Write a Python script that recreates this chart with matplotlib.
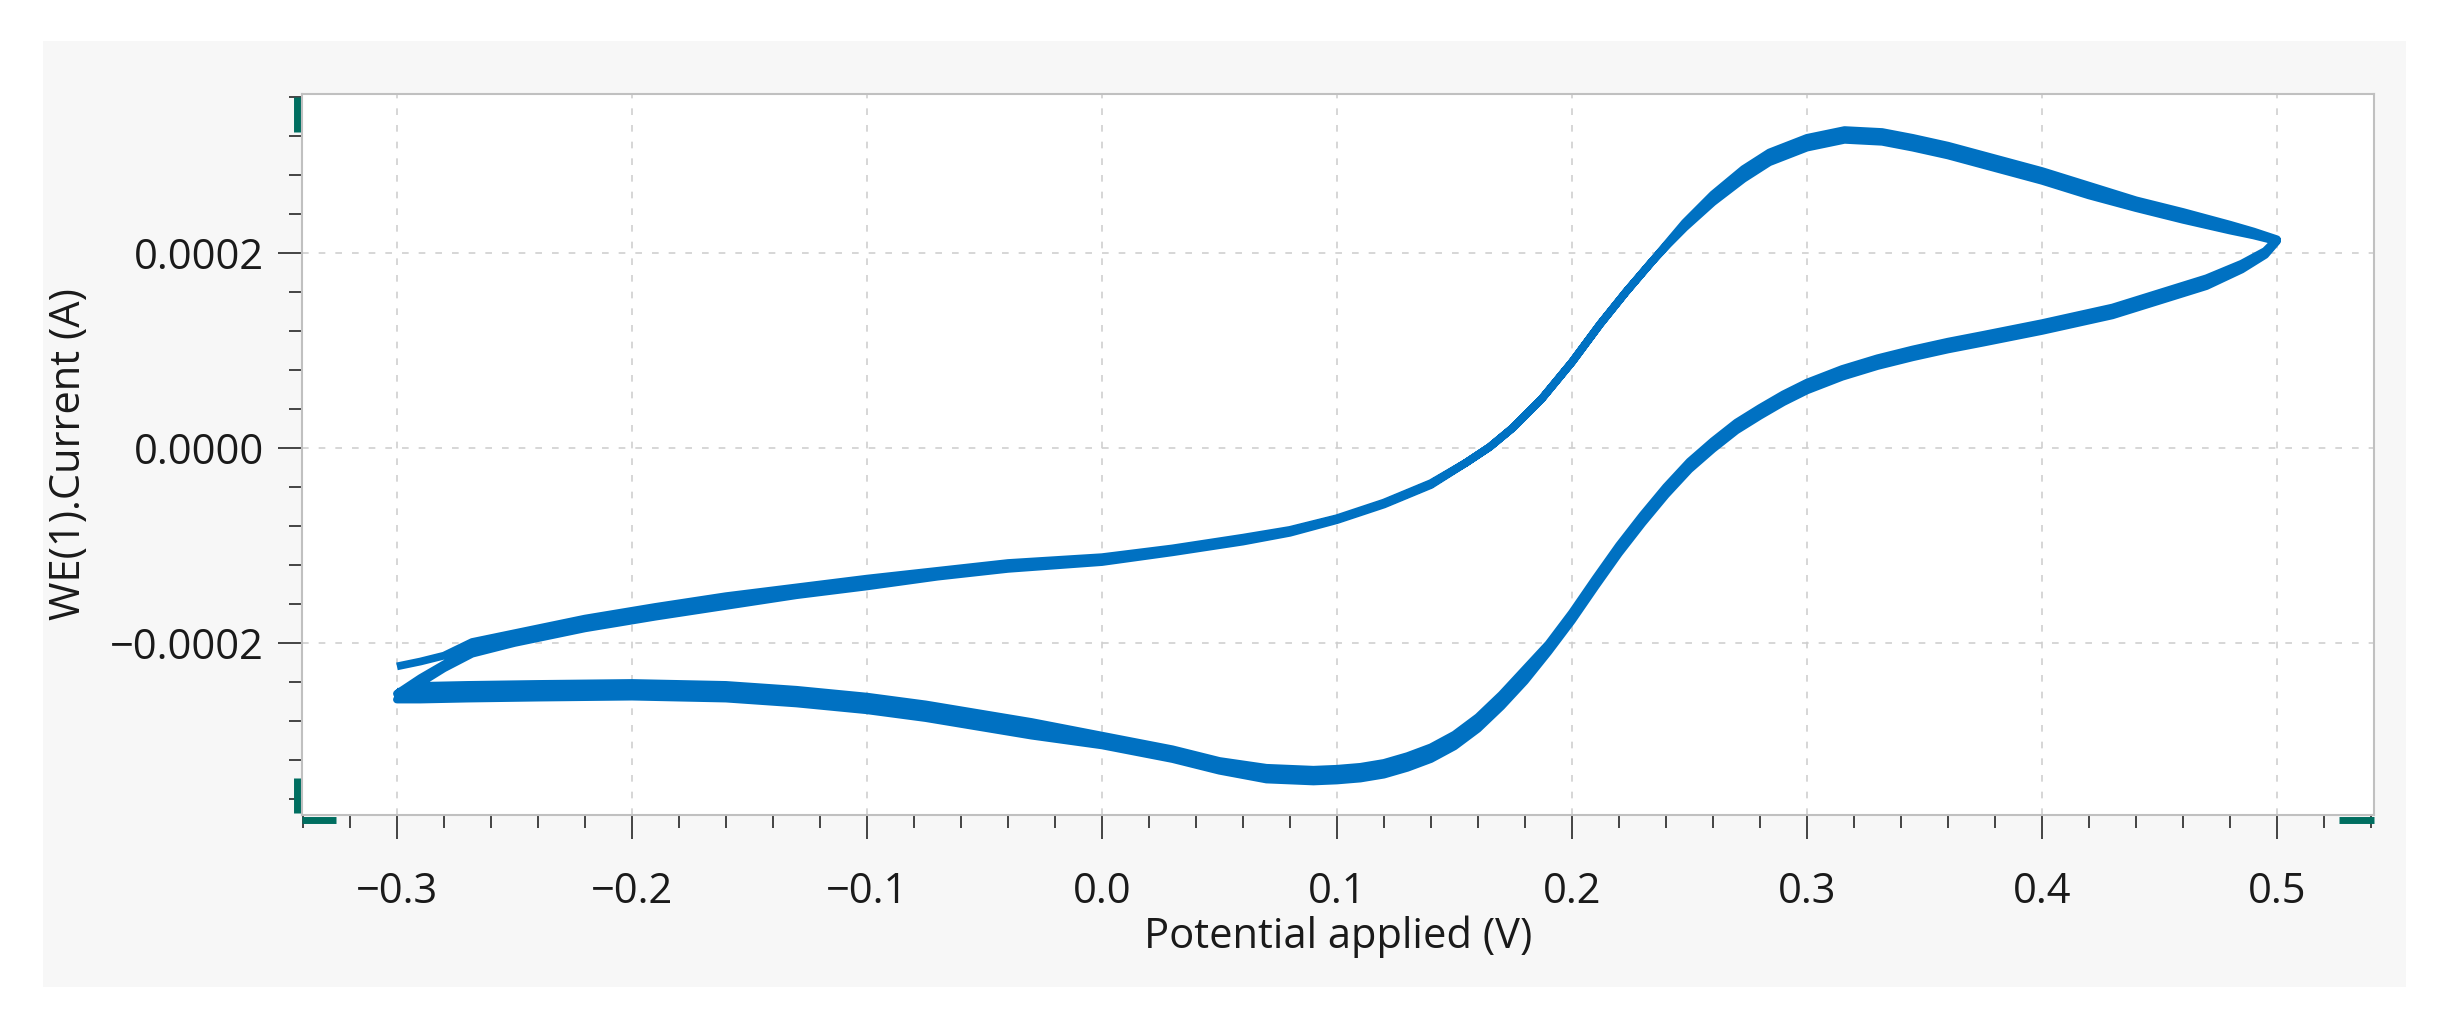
import numpy as np
import matplotlib
matplotlib.use("Agg")
import matplotlib.pyplot as plt
from matplotlib.ticker import MultipleLocator, FuncFormatter, FixedLocator
from matplotlib.patches import Rectangle

plt.rcParams['font.family'] = ['Open Sans', 'DejaVu Sans']

# ---------------- data (potential in V, current in microampere, 3 cycles) ----------------
E_fwd = [-0.300, -0.290, -0.280, -0.268, -0.250, -0.220, -0.190, -0.160, -0.130, -0.100,
         -0.070, -0.040, 0.000, 0.030, 0.060, 0.080, 0.100, 0.120, 0.140, 0.155,
         0.165, 0.175, 0.187, 0.200, 0.212, 0.223, 0.234, 0.241, 0.248, 0.260,
         0.273, 0.284, 0.300, 0.316, 0.332, 0.345, 0.360, 0.380, 0.400, 0.420,
         0.440, 0.460, 0.480, 0.490, 0.500]
I_fwd_cycle1 = [-224, -219, -213, -199, -190, -175, -163, -152, -143, -134,
                -126, -118, -112, -103, -92, -84, -72, -56, -36, -15,
                1, 21, 50, 88, 127, 160, 191, 209, 226, 252,
                276, 293, 308, 316, 314, 308, 300, 287, 274, 259,
                246, 234, 223, 218, 212]
I_fwd_cycle2 = [-258, -241, -226, -211, -200, -185, -173, -162, -151, -142,
                -132, -124, -117, -107, -96, -87, -74, -58, -38, -15,
                1, 21, 50, 88, 127, 160, 191, 211, 231, 260,
                286, 303, 318, 326, 324, 318, 310, 297, 284, 269,
                254, 242, 229, 222, 214]
I_fwd_cycle3 = [-252, -236, -222, -205, -195, -180, -168, -157, -147, -138,
                -129, -121, -115, -105, -94, -85, -73, -57, -37, -15,
                1, 21, 50, 88, 127, 160, 191, 210, 228, 256,
                281, 298, 313, 321, 319, 313, 305, 292, 279, 264,
                250, 238, 226, 220, 213]

E_rev = [0.500, 0.495, 0.485, 0.470, 0.450, 0.430, 0.400, 0.375, 0.360, 0.345,
         0.330, 0.315, 0.300, 0.290, 0.280, 0.270, 0.260, 0.250, 0.240, 0.230,
         0.220, 0.210, 0.200, 0.190, 0.180, 0.170, 0.160, 0.150, 0.140, 0.130,
         0.120, 0.110, 0.100, 0.090, 0.070, 0.050, 0.030, 0.000, -0.030, -0.050,
         -0.075, -0.100, -0.130, -0.160, -0.200, -0.240, -0.270, -0.290, -0.300]
I_rev_cycle1 = [212, 198, 183, 166, 151, 136, 120, 108, 101, 93,
                84, 73, 59, 47, 33, 18, -1, -22, -48, -77,
                -108, -142, -177, -209, -239, -265, -288, -306, -319, -328,
                -335, -339, -341, -342, -340, -331, -319, -305, -295, -287,
                -277, -269, -262, -257, -255, -256, -257, -258, -258]
I_rev_cycle2 = [214, 202, 189, 174, 159, 144, 128, 116, 109, 101,
                92, 81, 67, 55, 41, 26, 7, -14, -40, -69,
                -100, -134, -169, -201, -227, -253, -276, -294, -307, -316,
                -323, -327, -329, -330, -328, -321, -309, -295, -281, -273,
                -263, -255, -248, -243, -241, -242, -243, -244, -252]
I_rev_cycle3 = [213, 200, 186, 170, 155, 140, 124, 112, 105, 97,
                88, 77, 63, 51, 37, 22, 3, -18, -44, -73,
                -104, -138, -173, -205, -233, -259, -282, -300, -313, -322,
                -329, -333, -335, -336, -334, -326, -314, -300, -288, -280,
                -270, -262, -255, -250, -248, -249, -250, -251, -250]

x_major = [-0.3, -0.2, -0.1, 0.0, 0.1, 0.2, 0.3, 0.4, 0.5]
y_major = [-0.0002, 0.0, 0.0002]
x_label = "Potential applied (V)"
y_label = "WE(1).Current (A)"

# ---------------- figure ----------------
W, H, DPI = 2452, 1028, 100
fig = plt.figure(figsize=(W / DPI, H / DPI), dpi=DPI)
fig.patch.set_facecolor('white')

# light grey panel behind the plot
panel = Rectangle((43 / W, 1 - 987 / H), (2406 - 43) / W, (987 - 41) / H,
                  transform=fig.transFigure, facecolor='#f7f7f7',
                  edgecolor='none', zorder=-10)
fig.add_artist(panel)

ax_l, ax_r, ax_t, ax_b = 302, 2374, 94, 815
ax = fig.add_axes([ax_l / W, 1 - ax_b / H, (ax_r - ax_l) / W, (ax_b - ax_t) / H])
ax.set_zorder(1)
ax.set_facecolor('white')

E_all = np.concatenate([E_fwd, E_rev, E_fwd, E_rev, E_fwd, E_rev])
I_all = np.concatenate([I_fwd_cycle1, I_rev_cycle1,
                        I_fwd_cycle2, I_rev_cycle2,
                        I_fwd_cycle3, I_rev_cycle3]) * 1e-6
ax.plot(E_all, I_all, color='#0071c2', lw=5.6, solid_joinstyle='round',
        solid_capstyle='butt', zorder=3)

ax.set_xlim(-0.3404, 0.5413)
ax.set_ylim(-0.0003764, 0.000363)

ax.xaxis.set_major_locator(FixedLocator(x_major))
ax.xaxis.set_minor_locator(MultipleLocator(0.02))
ax.yaxis.set_major_locator(FixedLocator(y_major))
ax.yaxis.set_minor_locator(MultipleLocator(0.00004))

def fmt(dec):
    def f(v, pos):
        s = f"{v:.{dec}f}"
        if float(s) == 0:
            s = f"{0:.{dec}f}"
        return s.replace('-', '\u2212')
    return FuncFormatter(f)

ax.xaxis.set_major_formatter(fmt(1))
ax.yaxis.set_major_formatter(fmt(4))

tick_col = '#444444'
ax.tick_params(axis='both', which='major', direction='out', length=17.5, width=1.4,
               color=tick_col, labelsize=30, labelcolor='#1a1a1a')
ax.tick_params(axis='both', which='minor', direction='out', length=9.5, width=1.4,
               color=tick_col)
ax.tick_params(axis='x', which='major', pad=23)
ax.tick_params(axis='y', which='major', pad=10)

for sp in ax.spines.values():
    sp.set_color('#c0c0c0')
    sp.set_linewidth(1.5)

ax.grid(True, which='major', color='#cfcfcf', linestyle=(0, (4, 6)), linewidth=1.2)
ax.set_axisbelow(True)

# teal range handles at the axis ends
green = '#006e60'
axw, axh = ax_r - ax_l, ax_b - ax_t
handles = [
    ((-5 / axw, -5 / axw), (1 - 38 / axh, 1 - 3 / axh)),
    ((-5 / axw, -5 / axw), (2 / axh, 37 / axh)),
    ((0.0, 34 / axw), (-5 / axh, -5 / axh)),
    ((1 - 35 / axw, 1.0), (-5 / axh, -5 / axh)),
]
for xs, ys in handles:
    ax.plot(xs, ys, transform=ax.transAxes, color=green, lw=5, clip_on=False,
            solid_capstyle='butt', zorder=5)

fig.text((ax_l + ax_r) / 2 / W, 1 - 937 / H, x_label, ha='center', va='center',
         fontsize=30, color='#1a1a1a', zorder=5)
fig.text(69 / W, 1 - 454 / H, y_label, ha='center', va='center', rotation=90,
         fontsize=30, color='#1a1a1a', zorder=5)

fig.savefig('out.png', dpi=DPI, facecolor='white')
